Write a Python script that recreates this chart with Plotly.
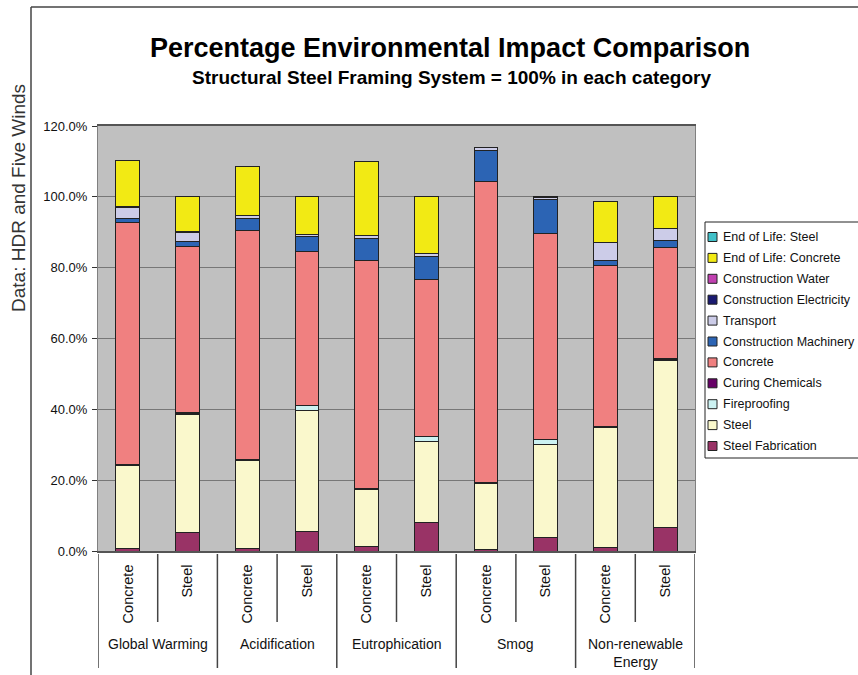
import plotly.graph_objects as go

groups = ["Global Warming", "Acidification", "Eutrophication", "Smog", "Non-renewable<br>Energy"]
systems = ["Concrete", "Steel"]

# stacked bottom -> top; each list: GW-C, GW-S, Ac-C, Ac-S, Eu-C, Eu-S, Sm-C, Sm-S, NRE-C, NRE-S
steel_fabrication = [0.6, 5.3, 0.6, 5.5, 1.2, 8.1, 0.5, 3.9, 0.9, 6.7]
steel = [23.5, 33.2, 25.0, 34.3, 16.3, 22.8, 18.6, 26.3, 34.0, 47.1]
fireproofing = [0.0, 0.4, 0.0, 1.2, 0.0, 1.4, 0.0, 1.2, 0.0, 0.3]
curing_chemicals = [0.2, 0.3, 0.2, 0.1, 0.2, 0.1, 0.2, 0.1, 0.2, 0.3]
concrete = [68.5, 46.9, 64.7, 43.6, 64.3, 44.2, 85.0, 58.2, 45.5, 31.4]
construction_machinery = [1.2, 1.3, 3.5, 4.2, 6.1, 6.6, 8.8, 9.5, 1.4, 1.9]
transport = [3.1, 2.6, 0.7, 0.6, 1.0, 0.9, 0.9, 0.7, 5.2, 3.5]
construction_electricity = [0.1, 0.1, 0.1, 0.0, 0.0, 0.0, 0.0, 0.0, 0.0, 0.0]
construction_water = [0.0, 0.0, 0.0, 0.0, 0.0, 0.0, 0.0, 0.0, 0.0, 0.0]
end_of_life_concrete = [13.1, 9.9, 13.9, 10.5, 20.9, 15.9, 0.0, 0.1, 11.5, 8.8]
end_of_life_steel = [0.0, 0.0, 0.0, 0.0, 0.0, 0.2, 0.0, 0.0, 0.0, 0.0]

series = [
    ("Steel Fabrication", steel_fabrication, "#993366"),
    ("Steel", steel, "#FAF8CC"),
    ("Fireproofing", fireproofing, "#CCF2F2"),
    ("Curing Chemicals", curing_chemicals, "#660066"),
    ("Concrete", concrete, "#F08080"),
    ("Construction Machinery", construction_machinery, "#2C64B4"),
    ("Transport", transport, "#CCCCE8"),
    ("Construction Electricity", construction_electricity, "#1A1A70"),
    ("Construction Water", construction_water, "#C040B0"),
    ("End of Life: Concrete", end_of_life_concrete, "#F2EA14"),
    ("End of Life: Steel", end_of_life_steel, "#40C0C8"),
]

xpos = list(range(len(groups) * len(systems)))
inner_labels = [s for g in groups for s in systems]

FONT = "Liberation Sans, Arial, sans-serif"

fig = go.Figure()
for name, vals, col in series:
    fig.add_trace(go.Bar(
        x=xpos, y=vals, name=name, width=0.4, showlegend=False,
        marker=dict(color=col, line=dict(color="#222222", width=1)),
    ))

# plot geometry in px for paper conversions
L, R, T, B = 98, 695, 126, 551
W, H = R - L, B - T
def px(xp):
    return (xp - L) / W
def py(yp):
    return (B - yp) / H

shapes = []
annotations = []
# dividers below x axis
for i in range(len(xpos) + 1):
    xb = i - 0.5
    is_group = (i % 2 == 0)
    shapes.append(dict(type="line", xref="x", yref="paper", x0=xb, x1=xb,
                       y0=py(554), y1=py(668 if is_group else 622),
                       line=dict(color="#444444", width=1.5)))
# chart-area border (left + top)
shapes.append(dict(type="line", xref="paper", yref="paper", x0=px(31), x1=px(31),
                   y0=py(7), y1=py(680), line=dict(color="#444444", width=1.5)))
shapes.append(dict(type="line", xref="paper", yref="paper", x0=px(31), x1=px(870),
                   y0=py(7), y1=py(7), line=dict(color="#444444", width=1.5)))

# legend (drawn as box + swatches + labels, top entry = last series)
LEG_L, LEG_T, LEG_B = 705, 222, 458
shapes.append(dict(type="rect", xref="paper", yref="paper", x0=px(LEG_L), x1=px(875),
                   y0=py(LEG_T), y1=py(LEG_B), fillcolor="white",
                   line=dict(color="#222222", width=1)))
step = 20.9
for k, (name, vals, col) in enumerate(reversed(series)):
    yc = 237 + k * step
    shapes.append(dict(type="rect", xref="paper", yref="paper",
                       x0=px(708), x1=px(717), y0=py(yc - 4.5), y1=py(yc + 4.5),
                       fillcolor=col, line=dict(color="#222222", width=1)))
    annotations.append(dict(x=px(721), y=py(yc), xref="paper", yref="paper",
                            text=name, showarrow=False, xanchor="left", yanchor="middle",
                            font=dict(family=FONT, size=12.5, color="#111111")))

for gi, g in enumerate(groups):
    annotations.append(dict(x=gi * 2 + 0.5, xref="x", y=py(634), yref="paper",
                            text=g, showarrow=False, yanchor="top", xanchor="center",
                            font=dict(family=FONT, size=14, color="#111111")))
annotations.append(dict(x=px(450), y=py(48), xref="paper", yref="paper",
                        text="<b>Percentage Environmental Impact Comparison</b>",
                        showarrow=False, xanchor="center", yanchor="middle",
                        font=dict(family=FONT, size=27, color="#000000")))
annotations.append(dict(x=px(451), y=py(78), xref="paper", yref="paper",
                        text="<b>Structural Steel Framing System = 100% in each category</b>",
                        showarrow=False, xanchor="center", yanchor="middle",
                        font=dict(family=FONT, size=19, color="#000000")))
annotations.append(dict(x=px(18), y=py(198), xref="paper", yref="paper",
                        text="Data: HDR and Five Winds", textangle=-90,
                        showarrow=False, xanchor="center", yanchor="middle",
                        font=dict(family=FONT, size=19, color="#333333")))

fig.update_layout(
    width=858, height=675,
    barmode="stack",
    paper_bgcolor="white",
    plot_bgcolor="#C0C0C0",
    margin=dict(l=L, r=858 - R, t=T, b=675 - B, autoexpand=False),
    showlegend=False,
    shapes=shapes,
    annotations=annotations,
    font=dict(family=FONT, color="#111111"),
)
fig.update_xaxes(range=[-0.5, len(xpos) - 0.5], tickvals=xpos, ticktext=inner_labels,
                 tickangle=-90, ticks="", showgrid=False, zeroline=False,
                 ticklabelstandoff=6,
                 showline=True, linecolor="#555555", linewidth=1.5, mirror=True,
                 tickfont=dict(family=FONT, size=14.5, color="#111111"))
fig.update_yaxes(range=[0, 120], dtick=20, tickformat=".1f", ticksuffix="%",
                 ticks="outside", ticklen=5, tickcolor="#333333", ticklabelstandoff=2,
                 showgrid=True, gridcolor="#777777", gridwidth=1.2, zeroline=False,
                 showline=True, linecolor="#808080", linewidth=1, mirror=True,
                 tickfont=dict(family=FONT, size=13, color="#111111"))

fig.write_html("out.html", config={"displayModeBar": False},
               post_script="document.body.style.margin='0';")
